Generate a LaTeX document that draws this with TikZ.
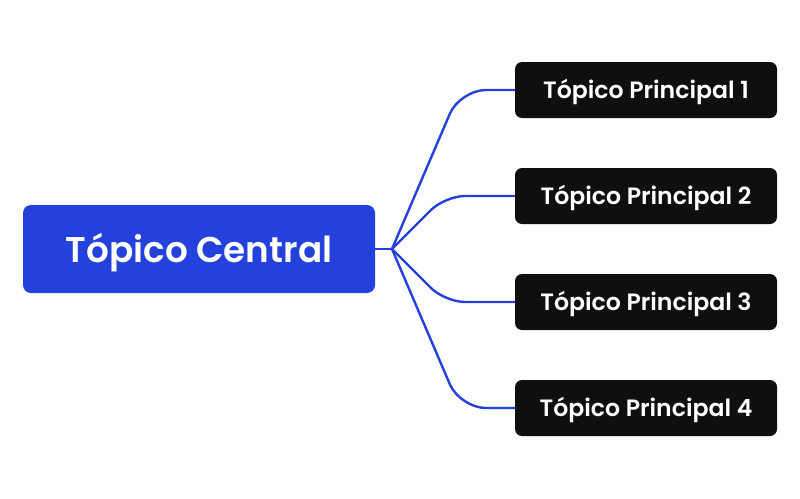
\documentclass[tikz,border=0pt]{standalone}
\usepackage{fontspec}
\setmainfont{Poppins}[UprightFont=* SemiBold]
\usepackage{tikz}
\usepackage{xcolor}

\definecolor{topicblue}{HTML}{2541DB}
\definecolor{topicblack}{HTML}{0F0F0F}

\begin{document}
\begin{tikzpicture}[x=1pt,y=-1pt]
\useasboundingbox (0,0) rectangle (800,498);

\node[fill=topicblue, text=white, rounded corners=8pt, minimum width=352pt, minimum height=88pt, text height=26pt, text depth=0pt, font=\fontsize{35.8}{40}\selectfont] (c) at (199,249) {Tópico Central};

\begin{scope}[every node/.style={fill=topicblack, text=white, rounded corners=7pt, minimum width=262pt, minimum height=56pt, text height=17pt, text depth=0pt, font=\fontsize{23.6}{26}\selectfont}]
\node (t1) at (646,90) {Tópico Principal 1};
\node (t2) at (646,196) {Tópico Principal 2};
\node (t3) at (646,302) {Tópico Principal 3};
\node (t4) at (646,408) {Tópico Principal 4};
\end{scope}

\coordinate (j) at (392,249);

\draw[line width=2.4pt, topicblue] (c.east) -- (j);
\draw[line width=2.4pt, topicblue, rounded corners=26pt] (j) -- (460,90) -- (t1.west);
\draw[line width=2.4pt, topicblue, rounded corners=20pt] (j) -- (445,196) -- (t2.west);
\draw[line width=2.4pt, topicblue, rounded corners=20pt] (j) -- (445,302) -- (t3.west);
\draw[line width=2.4pt, topicblue, rounded corners=26pt] (j) -- (460,408) -- (t4.west);

\end{tikzpicture}
\end{document}
